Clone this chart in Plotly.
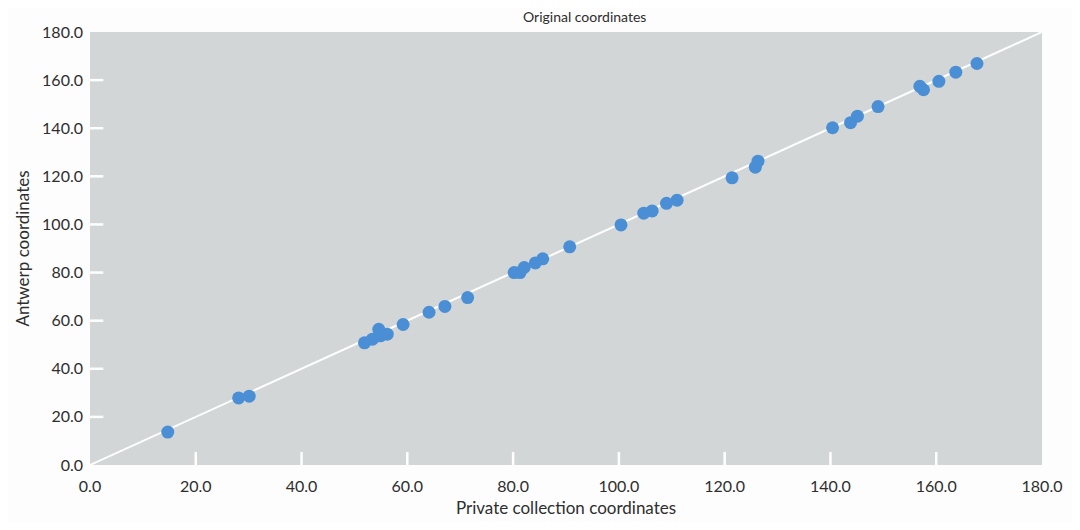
import plotly.graph_objects as go

# Data (private collection vs Antwerp coordinates)
private_x = [14.7, 28.1, 30.1, 51.9, 53.4, 54.6, 54.9, 56.2, 59.2, 64.1, 67.1, 71.4,
             80.2, 81.3, 82.1, 84.2, 85.6, 90.7, 100.4, 104.7, 106.3, 109.0, 111.0,
             121.4, 125.8, 126.3, 140.4, 143.8, 145.1, 149.0,
             156.9, 157.6, 160.5, 163.7, 167.7]
antwerp_y = [13.7, 27.9, 28.6, 50.8, 52.3, 56.4, 53.7, 54.4, 58.4, 63.5, 65.9, 69.6,
             80.0, 80.0, 82.1, 84.0, 85.7, 90.7, 99.8, 104.7, 105.6, 108.8, 110.1,
             119.4, 123.8, 126.3, 140.2, 142.3, 145.0, 149.0,
             157.4, 156.0, 159.5, 163.3, 166.9]

identity = [0, 180]
label_ticks = [0, 20, 40, 60, 80, 100, 120, 140, 160, 180]
mark_ticks = [20, 40, 60, 80, 100, 120, 140, 160]

FONT = "Lato"
TXT = "#2e2e2e"
GRAY = "#d3d6d6"

fig = go.Figure()

fig.add_trace(go.Scatter(
    x=identity, y=identity, mode="lines",
    line=dict(color="white", width=2),
    hoverinfo="skip", showlegend=False,
))

fig.add_trace(go.Scatter(
    x=private_x, y=antwerp_y, mode="markers",
    marker=dict(color="#4a8fd6", size=13, line=dict(width=0)),
    showlegend=False,
))

# white inner tick marks at the tick values
for v in mark_ticks:
    fig.add_shape(type="line", xref="x", yref="y domain", x0=v, x1=v, y0=0, y1=0.03,
                  line=dict(color="#ffffff", width=2.5), layer="above")
    fig.add_shape(type="line", xref="x domain", yref="y", x0=0, x1=0.014, y0=v, y1=v,
                  line=dict(color="#ffffff", width=2.5), layer="above")

axis_common = dict(range=[0, 180], showgrid=False, zeroline=False, showline=False,
                   tickmode="array", tickvals=label_ticks, tickformat=".1f",
                   ticks="", automargin=False,
                   tickfont=dict(size=16, color=TXT))

fig.update_layout(
    width=1064, height=514,
    margin=dict(l=82, r=30, t=24, b=57),
    paper_bgcolor="#fdfdfd",
    plot_bgcolor=GRAY,
    font=dict(family=FONT, color=TXT, size=15),
    title=dict(text="Original coordinates", x=0.542, xanchor="center",
               y=0.992, yanchor="top", font=dict(family=FONT, size=14, color=TXT)),
    xaxis=dict(**axis_common, ticklabelstandoff=10,
               title=dict(text="Private collection coordinates", standoff=8,
                          font=dict(size=17, color=TXT))),
    yaxis=dict(**axis_common, ticklabelstandoff=6,
               title=dict(text="Antwerp coordinates", standoff=8,
                          font=dict(size=17, color=TXT))),
)

fig.write_html("out.html")
